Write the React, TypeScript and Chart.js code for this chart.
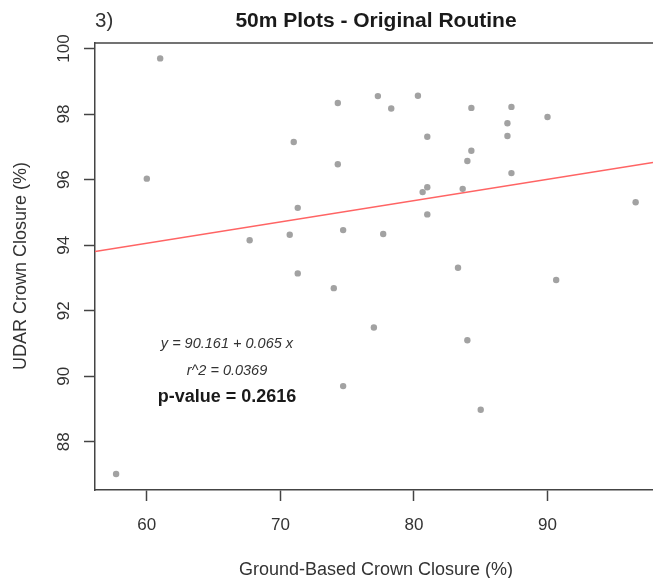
import React, { useEffect, useRef } from "react";
import { Chart, registerables } from "chart.js";

Chart.register(...registerables);

// Ground-based crown closure (%) for each 50 m plot
const groundCC = [
  61.0, 60.0, 67.7, 71.0, 70.7, 71.3, 71.3, 74.3, 74.3, 74.7, 74.0, 74.7,
  77.0, 77.3, 77.7, 78.3, 80.3, 80.65, 81.0, 81.0, 81.0, 83.3, 83.65, 84.0,
  84.3, 84.3, 84.0, 85.0, 87.0, 87.0, 87.3, 87.3, 90.0, 90.65, 96.6, 57.7,
];
// LiDAR-derived crown closure (%) for the same plots
const lidarCC = [
  99.7, 96.03, 94.15, 97.15, 94.32, 95.14, 93.14, 98.34, 96.47, 94.46, 92.69, 89.7,
  91.49, 98.55, 94.34, 98.17, 98.56, 95.62, 95.77, 97.31, 94.94, 93.31, 95.72, 96.57,
  96.88, 98.19, 91.1, 88.98, 97.72, 97.33, 98.22, 96.2, 97.91, 92.94, 95.31, 87.02,
];

// Fitted regression y = a + b x
const intercept = 90.161;
const slope = 0.065;

const xTickValues = [60, 70, 80, 90];
const yTickValues = [88, 90, 92, 94, 96, 98, 100];
const xRange = [56.12, 97.9];
const yRange = [86.53, 100.17];

const titleText = "50m Plots - Original Routine";
const panelLabel = "3)";
const xAxisTitle = "Ground-Based Crown Closure (%)";
const yAxisTitle = "UDAR Crown Closure (%)";
const annotLines = ["y = 90.161 + 0.065 x", "r^2 = 0.0369", "p-value = 0.2616"];
const annotX = 66.0;
const annotY = [90.98, 90.17, 89.38];

const FONT = "'Liberation Sans', Arial, Helvetica, sans-serif";

const textPlugin = {
  id: "rtext",
  afterDraw(chart: any) {
    const ctx = chart.ctx as CanvasRenderingContext2D;
    const ca = chart.chartArea;
    const xs = chart.scales.x;
    const ys = chart.scales.y;
    ctx.save();
    // top box line
    ctx.strokeStyle = "#444";
    ctx.lineWidth = 1.5;
    ctx.beginPath();
    ctx.moveTo(ca.left, ca.top);
    ctx.lineTo(chart.width, ca.top);
    ctx.stroke();

    // title
    ctx.fillStyle = "#1a1a1a";
    ctx.font = `bold 21px ${FONT}`;
    ctx.textAlign = "center";
    ctx.textBaseline = "alphabetic";
    ctx.fillText(titleText, 376, 27);

    ctx.fillStyle = "#333";
    ctx.font = `20.5px ${FONT}`;
    ctx.textAlign = "left";
    ctx.fillText(panelLabel, 95, 27);

    // x tick labels
    ctx.font = `17px ${FONT}`;
    ctx.textAlign = "center";
    ctx.fillStyle = "#333";
    for (const t of xs.ticks) {
      ctx.fillText(String(t.value), xs.getPixelForValue(t.value), 530);
    }
    // y tick labels (rotated)
    for (const t of ys.ticks) {
      const py = ys.getPixelForValue(t.value);
      ctx.save();
      ctx.translate(68.5, py);
      ctx.rotate(-Math.PI / 2);
      ctx.textAlign = "center";
      ctx.fillText(String(t.value), 0, 0);
      ctx.restore();
    }

    // axis titles
    ctx.font = `18px ${FONT}`;
    ctx.textAlign = "center";
    ctx.fillText(xAxisTitle, 376, 574.5);
    ctx.save();
    ctx.translate(26, 266);
    ctx.rotate(-Math.PI / 2);
    ctx.fillText(yAxisTitle, 0, 0);
    ctx.restore();

    // annotations
    const ax = xs.getPixelForValue(annotX);
    ctx.textBaseline = "middle";
    ctx.fillStyle = "#333";
    ctx.font = `italic 14.5px ${FONT}`;
    ctx.fillText(annotLines[0], ax, ys.getPixelForValue(annotY[0]));
    ctx.fillText(annotLines[1], ax, ys.getPixelForValue(annotY[1]));
    ctx.fillStyle = "#1a1a1a";
    ctx.font = `bold 18px ${FONT}`;
    ctx.fillText(annotLines[2], ax, ys.getPixelForValue(annotY[2]));
    ctx.restore();
  },
};

export default function App() {
  const ref = useRef<HTMLCanvasElement | null>(null);

  useEffect(() => {
    if (!ref.current) return;
    const points = groundCC.map((x, i) => ({ x, y: lidarCC[i] }));
    const fitLine = xRange.map((x) => ({ x, y: intercept + slope * x }));
    const chart = new Chart(ref.current, {
      type: "scatter",
      data: {
        datasets: [
          {
            label: "plots",
            data: points,
            pointRadius: 3.2,
            pointBackgroundColor: "#a2a2a2",
            pointBorderWidth: 0,
            borderWidth: 0,
            showLine: false,
            clip: false,
          } as any,
          {
            label: "fit",
            type: "line",
            data: fitLine,
            borderColor: "#ff6464",
            borderWidth: 1.6,
            pointRadius: 0,
            fill: false,
          } as any,
        ],
      },
      options: {
        responsive: false,
        animation: false,
        events: [],
        layout: { padding: { left: 0, right: 0, top: 43, bottom: 0 }, autoPadding: false },
        plugins: {
          legend: { display: false },
          title: { display: false },
          tooltip: { enabled: false },
        },
        scales: {
          x: {
            type: "linear",
            min: xRange[0],
            max: xRange[1],
            afterBuildTicks: (s: any) => {
              s.ticks = xTickValues.map((v) => ({ value: v }));
            },
            afterFit: (s: any) => {
              s.height = 88;
              s.paddingLeft = 0;
              s.paddingRight = 0;
            },
            ticks: { display: false },
            grid: {
              drawOnChartArea: false,
              drawTicks: true,
              tickLength: 11,
              tickWidth: 1.5,
              tickColor: "#444",
            },
            border: { display: true, color: "#444", width: 1.5 },
          },
          y: {
            type: "linear",
            min: yRange[0],
            max: yRange[1],
            afterBuildTicks: (s: any) => {
              s.ticks = yTickValues.map((v) => ({ value: v }));
            },
            afterFit: (s: any) => {
              s.width = 95;
              s.paddingTop = 0;
              s.paddingBottom = 0;
            },
            ticks: { display: false },
            grid: {
              drawOnChartArea: false,
              drawTicks: true,
              tickLength: 11,
              tickWidth: 1.5,
              tickColor: "#444",
            },
            border: { display: true, color: "#444", width: 1.5 },
          },
        },
      },
      plugins: [textPlugin],
    });
    return () => chart.destroy();
  }, []);

  return (
    <div style={{ position: "fixed", left: 0, top: 0, width: 653, height: 578, background: "#fff" }}>
      <canvas ref={ref} width={653} height={578} style={{ display: "block" }} />
    </div>
  );
}
